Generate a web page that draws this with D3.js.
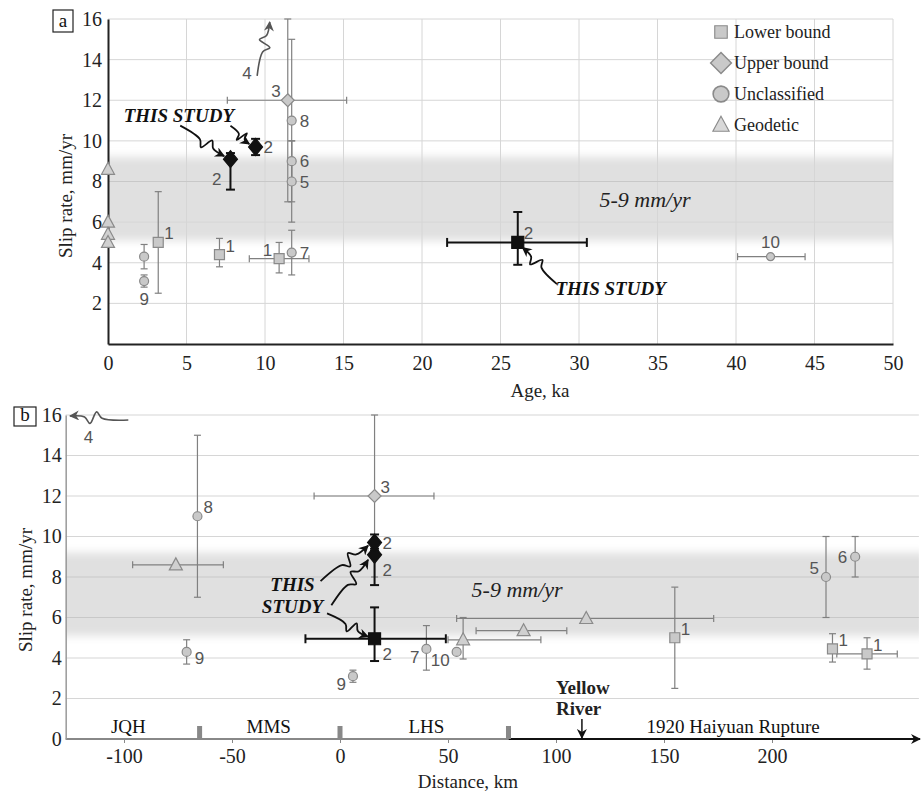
<!DOCTYPE html>
<html>
<head>
<meta charset="utf-8">
<script src="https://cdn.jsdelivr.net/npm/d3@7"></script>
<style>
  body { margin: 0; background: #fff; }
</style>
</head>
<body>
<svg id="chart" width="922" height="794"></svg>
<script>
// ---- data ----
var ageTicks = [0, 5, 10, 15, 20, 25, 30, 35, 40, 45, 50];
var rateTicks = [0, 2, 4, 6, 8, 10, 12, 14, 16];
var distTicks = [-100, -50, 0, 50, 100, 150, 200];
var band = [5.1, 9.2];
var bandText = "5-9 mm/yr";

// panel a: slip rate against age
var agePoints = [
  { type: "geodetic", x: 0, y: 8.6 },
  { type: "geodetic", x: 0, y: 6.0 },
  { type: "geodetic", x: 0, y: 5.4 },
  { type: "geodetic", x: 0, y: 5.0 },
  { type: "lower", x: 3.2, y: 5.0, ylo: 2.5, yhi: 7.5, label: "1", side: "ur" },
  { type: "unclass", x: 2.3, y: 4.3, ylo: 3.7, yhi: 4.9 },
  { type: "unclass", x: 2.3, y: 3.1, ylo: 2.8, yhi: 3.4, label: "9", side: "below" },
  { type: "lower", x: 7.1, y: 4.4, ylo: 3.8, yhi: 5.2, label: "1", side: "ur" },
  { type: "lower", x: 10.9, y: 4.2, xlo: 9.0, xhi: 12.8, ylo: 3.5, yhi: 5.0, label: "1", side: "ul" },
  { type: "unclass", x: 11.7, y: 11.0, ylo: 7, yhi: 15, label: "8", side: "right" },
  { type: "unclass", x: 11.7, y: 9.0, ylo: 8, yhi: 10, label: "6", side: "right" },
  { type: "unclass", x: 11.7, y: 8.0, ylo: 6, yhi: 10, label: "5", side: "right" },
  { type: "unclass", x: 11.7, y: 4.5, ylo: 3.4, yhi: 5.6, label: "7", side: "right" },
  { type: "upper", x: 11.45, y: 12, xlo: 7.6, xhi: 15.2, ylo: 7, yhi: 16, label: "3", side: "ul" },
  { type: "unclass", x: 42.2, y: 4.3, xlo: 40.1, xhi: 44.4, label: "10", side: "above", small: true },
  { type: "upper", own: true, x: 7.8, y: 9.1, ylo: 7.6, yhi: 9.4, label: "2", side: "bl" },
  { type: "upper", own: true, x: 9.4, y: 9.7, ylo: 9.3, yhi: 10.1, label: "2", side: "right" },
  { type: "lower", own: true, x: 26.1, y: 5.0, xlo: 21.6, xhi: 30.5, ylo: 3.9, yhi: 6.5, label: "2", side: "ur" }
];

// panel b: slip rate against distance along the fault
var distPoints = [
  { type: "geodetic", x: -76, y: 8.6, xlo: -96, xhi: -54 },
  { type: "unclass", x: -66, y: 11.0, ylo: 7, yhi: 15, label: "8", side: "ur" },
  { type: "unclass", x: -71, y: 4.3, ylo: 3.7, yhi: 4.9, label: "9", side: "rlow" },
  { type: "unclass", x: 6, y: 3.1, ylo: 2.8, yhi: 3.4, label: "9", side: "llow" },
  { type: "upper", x: 16, y: 12, xlo: -12, xhi: 43.5, ylo: 8, yhi: 16, label: "3", side: "ur" },
  { type: "geodetic", x: 57, y: 4.9, xlo: 50, xhi: 93, ylo: 3.95, yhi: 6.0 },
  { type: "geodetic", x: 85, y: 5.35, xlo: 63, xhi: 105 },
  { type: "geodetic", x: 114, y: 5.95, xlo: 54, xhi: 173 },
  { type: "unclass", x: 40, y: 4.45, ylo: 3.4, yhi: 5.6, label: "7", side: "llow" },
  { type: "unclass", x: 54, y: 4.3, label: "10", side: "llow" },
  { type: "lower", x: 155, y: 5.0, ylo: 2.5, yhi: 7.5, label: "1", side: "ur" },
  { type: "lower", x: 228, y: 4.45, ylo: 3.8, yhi: 5.2, label: "1", side: "ur" },
  { type: "lower", x: 244, y: 4.2, xlo: 230, xhi: 258, ylo: 3.45, yhi: 5.0, label: "1", side: "ur" },
  { type: "unclass", x: 225, y: 8.0, ylo: 6, yhi: 10, label: "5", side: "ul" },
  { type: "unclass", x: 238.5, y: 9.0, ylo: 8, yhi: 10, label: "6", side: "left" },
  { type: "upper", own: true, x: 16, y: 9.1, ylo: 7.6, yhi: 9.4, label: "2", side: "rb" },
  { type: "upper", own: true, x: 16, y: 9.7, ylo: 9.3, yhi: 10.1, label: "2", side: "right" },
  { type: "lower", own: true, x: 16, y: 4.95, xlo: -16, xhi: 49, ylo: 3.85, yhi: 6.5, label: "2", side: "rb" }
];

var legendItems = [
  { type: "lower", name: "Lower bound" },
  { type: "upper", name: "Upper bound" },
  { type: "unclass", name: "Unclassified" },
  { type: "geodetic", name: "Geodetic" }
];

// fault segments along panel b's distance axis
var segmentBreaks = [-65, 0, 78];
var segmentNames = [
  { name: "JQH", x: -98 },
  { name: "MMS", x: -33 },
  { name: "LHS", x: 40 },
  { name: "1920 Haiyuan Rupture", x: 182 }
];
var riverAt = 112;
var riverLines = ["Yellow", "River"];

// annotations, in data units
var ageNotes = [
  { text: "THIS STUDY", x: 1.0, y: 10.93, anchor: "start" },
  { text: "THIS STUDY", x: 28.5, y: 2.4, anchor: "start" }
];
var ageArrows = [
  { from: [4.6, 10.75], to: [7.4, 9.25] },
  { from: [7.8, 10.75], to: [9.0, 9.85] },
  { from: [28.6, 2.95], to: [26.4, 4.75] },
  { from: [9.5, 13.2], to: [10.3, 15.85], grey: true, label: "4", at: [8.85, 13.05] }
];
var distNotes = [
  { text: "THIS", x: -22, y: 7.3, anchor: "middle" },
  { text: "STUDY", x: -22, y: 6.2, anchor: "middle" }
];
var distArrows = [
  { from: [-9, 7.8], to: [13, 9.55] },
  { from: [-4, 6.6], to: [13, 8.85] },
  { from: [-6, 6.2], to: [13, 5.05] },
  { from: [-98, 15.75], to: [-125, 15.95], grey: true, label: "4", at: [-116.5, 14.6] }
];

// ---- setup ----
var serif = "'Liberation Serif', 'Times New Roman', serif";
var sans = "'Liberation Sans', Arial, sans-serif";
var svg = d3.select("#chart");
var defs = svg.append("defs");
var plain = function (d) { return String(d); }; // keep ASCII hyphen on negatives

defs.append("filter")
  .attr("id", "soft")
  .attr("x", "-2%").attr("y", "-40%")
  .attr("width", "104%").attr("height", "180%")
  .append("feGaussianBlur")
  .attr("stdDeviation", "0 4");

function arrowMarker(id, color, w, h) {
  defs.append("marker")
    .attr("id", id)
    .attr("markerUnits", "userSpaceOnUse")
    .attr("viewBox", "0 0 10 10")
    .attr("refX", 9).attr("refY", 5)
    .attr("markerWidth", w).attr("markerHeight", h)
    .attr("orient", "auto")
    .append("path")
    .attr("d", "M0,0L10,5L0,10L3,5Z")
    .attr("fill", color);
}
arrowMarker("headBlack", "#111", 12, 10);
arrowMarker("headGrey", "#555", 12, 10);
arrowMarker("headAxis", "#111", 14, 10);

function shapePath(type, own, small) {
  var s;
  if (type == "lower") {
    s = own ? 6 : 5;
    return "M" + -s + "," + -s + "h" + 2 * s + "v" + 2 * s + "h" + -2 * s + "Z";
  }
  if (type == "upper") {
    var w = own ? 7 : 6.5, h = own ? 8.5 : 6.5;
    return "M0," + -h + "L" + w + ",0L0," + h + "L" + -w + ",0Z";
  }
  if (type == "geodetic") {
    return "M0,-7L6.5,5L-6.5,5Z";
  }
  s = small ? 4 : 4.5;
  return "M" + s + ",0A" + s + "," + s + " 0 1,1 " + -s + ",0A" + s + "," + s + " 0 1,1 " + s + ",0Z";
}

var labelOffset = {
  right: [8, 6, "start"],
  rlow: [8, 12, "start"],
  ur: [6, -3, "start"],
  ul: [-7, -3, "end"],
  left: [-8, 6, "end"],
  llow: [-7, 14, "end"],
  bl: [-9, 26, "end"],
  rb: [8, 21, "start"],
  below: [0, 24, "middle"],
  above: [0, -9, "middle"]
};

function drawBand(x0, x1, y) {
  svg.append("rect")
    .attr("x", x0)
    .attr("y", y(band[1]))
    .attr("width", x1 - x0)
    .attr("height", y(band[0]) - y(band[1]))
    .attr("fill", "#e0e0e0")
    .attr("filter", "url(#soft)");
}

function drawPoints(pts, x, y) {
  var g = svg.append("g");
  pts.forEach(function (d) {
    var col = d.own ? "#111" : "#808080";
    var sw = d.own ? 2 : 1.2;
    var cap = d.own ? 4.5 : 3.5;
    if (d.xlo != null) {
      g.append("line").attr("x1", x(d.xlo)).attr("x2", x(d.xhi))
        .attr("y1", y(d.y)).attr("y2", y(d.y))
        .attr("stroke", col).attr("stroke-width", sw);
      [d.xlo, d.xhi].forEach(function (v) {
        g.append("line").attr("x1", x(v)).attr("x2", x(v))
          .attr("y1", y(d.y) - cap).attr("y2", y(d.y) + cap)
          .attr("stroke", col).attr("stroke-width", sw);
      });
    }
    if (d.ylo != null) {
      g.append("line").attr("x1", x(d.x)).attr("x2", x(d.x))
        .attr("y1", y(d.ylo)).attr("y2", y(d.yhi))
        .attr("stroke", col).attr("stroke-width", sw);
      [d.ylo, d.yhi].forEach(function (v) {
        g.append("line").attr("x1", x(d.x) - cap).attr("x2", x(d.x) + cap)
          .attr("y1", y(v)).attr("y2", y(v))
          .attr("stroke", col).attr("stroke-width", sw);
      });
    }
  });

  g.selectAll("path.mark")
    .data(pts)
    .enter()
    .append("path")
    .attr("class", "mark")
    .attr("d", function (d) { return shapePath(d.type, d.own, d.small); })
    .attr("transform", function (d) { return "translate(" + x(d.x) + "," + y(d.y) + ")"; })
    .attr("fill", function (d) {
      if (d.own) return "#111";
      return d.type == "geodetic" ? "#d0d0d0" : "#c9c9c9";
    })
    .attr("stroke", function (d) { return d.own ? "#111" : "#8a8a8a"; })
    .attr("stroke-width", 1.2);

  g.selectAll("text.lab")
    .data(pts.filter(function (d) { return d.label; }))
    .enter()
    .append("text")
    .attr("class", "lab")
    .attr("x", function (d) { return x(d.x) + labelOffset[d.side][0]; })
    .attr("y", function (d) { return y(d.y) + labelOffset[d.side][1]; })
    .attr("text-anchor", function (d) { return labelOffset[d.side][2]; })
    .attr("font-family", sans)
    .attr("font-size", "17px")
    .attr("fill", "#555")
    .text(function (d) { return d.label; });
}

function squiggle(s, e) {
  var dx = e[0] - s[0], dy = e[1] - s[1];
  var len = Math.sqrt(dx * dx + dy * dy);
  var nx = -dy / len, ny = dx / len;
  function at(t, off) {
    return [s[0] + dx * t + nx * off, s[1] + dy * t + ny * off];
  }
  return [s, at(0.45, 0), at(0.55, 6), at(0.65, -6), at(0.75, 0), e];
}

function drawArrows(list, x, y) {
  var line = d3.line().curve(d3.curveCatmullRom.alpha(0.5));
  list.forEach(function (a) {
    var s = [x(a.from[0]), y(a.from[1])];
    var e = [x(a.to[0]), y(a.to[1])];
    svg.append("path")
      .attr("d", line(squiggle(s, e)))
      .attr("fill", "none")
      .attr("stroke", a.grey ? "#555" : "#111")
      .attr("stroke-width", a.grey ? 1.6 : 1.8)
      .attr("marker-end", a.grey ? "url(#headGrey)" : "url(#headBlack)");
    if (a.label) {
      svg.append("text")
        .attr("x", x(a.at[0])).attr("y", y(a.at[1]))
        .attr("text-anchor", "middle")
        .attr("font-family", sans).attr("font-size", "17px")
        .attr("fill", "#555")
        .text(a.label);
    }
  });
}

function drawNotes(list, x, y) {
  svg.selectAll(null)
    .data(list)
    .enter()
    .append("text")
    .attr("x", function (d) { return x(d.x); })
    .attr("y", function (d) { return y(d.y); })
    .attr("text-anchor", function (d) { return d.anchor; })
    .attr("font-family", serif)
    .attr("font-size", "19px")
    .attr("font-weight", "bold")
    .attr("font-style", "italic")
    .attr("fill", "#111")
    .text(function (d) { return d.text; });
}

function panelTag(x0, y0, w, h, t) {
  svg.append("rect").attr("x", x0).attr("y", y0).attr("width", w).attr("height", h)
    .attr("fill", "#fff").attr("stroke", "#222").attr("stroke-width", 1.2);
  svg.append("text").attr("x", x0 + w / 2).attr("y", y0 + h - 5)
    .attr("text-anchor", "middle").attr("font-family", serif).attr("font-size", "19px")
    .attr("fill", "#111").text(t);
}

// ---- panel a ----
var xA = d3.scaleLinear().domain([0, 50]).range([108, 893]);
var yA = d3.scaleLinear().domain([0, 16]).range([344, 19]);

drawBand(xA(0), xA(50), yA);

svg.append("g").selectAll("line")
  .data(ageTicks.slice(1))
  .enter().append("line")
  .attr("x1", function (d) { return xA(d); }).attr("x2", function (d) { return xA(d); })
  .attr("y1", yA(0)).attr("y2", yA(16))
  .attr("stroke", "#d6d6d6").attr("stroke-width", 1);
svg.append("g").selectAll("line")
  .data(rateTicks.slice(1))
  .enter().append("line")
  .attr("x1", xA(0)).attr("x2", xA(50))
  .attr("y1", function (d) { return yA(d); }).attr("y2", function (d) { return yA(d); })
  .attr("stroke", function (d) { return d == 8 ? "#c8c8c8" : "#d6d6d6"; }).attr("stroke-width", 1);

var axA = svg.append("g").attr("transform", "translate(0," + yA(0) + ")")
  .call(d3.axisBottom(xA).tickValues(ageTicks).tickFormat(plain).tickSize(0).tickPadding(12));
axA.select(".domain").attr("stroke", "#222").attr("stroke-width", 2);
axA.selectAll("text").attr("font-family", serif).attr("font-size", "20px").attr("fill", "#222");

var ayA = svg.append("g").attr("transform", "translate(" + xA(0) + ",0)")
  .call(d3.axisLeft(yA).tickValues(rateTicks.slice(1)).tickFormat(plain).tickSize(0).tickPadding(6));
ayA.select(".domain").attr("stroke", "#222").attr("stroke-width", 2);
ayA.selectAll("text").attr("font-family", serif).attr("font-size", "20px").attr("fill", "#222");

svg.append("text").attr("x", 645).attr("y", yA(6.75))
  .attr("text-anchor", "middle").attr("font-family", serif).attr("font-size", "22px")
  .attr("font-style", "italic").attr("fill", "#222").text(bandText);

drawPoints(agePoints, xA, yA);
drawArrows(ageArrows, xA, yA);
drawNotes(ageNotes, xA, yA);

svg.append("text").attr("transform", "translate(72,196) rotate(-90)")
  .attr("text-anchor", "middle").attr("font-family", serif).attr("font-size", "19px")
  .attr("fill", "#222").text("Slip rate, mm/yr");
svg.append("text").attr("x", 540).attr("y", 397)
  .attr("text-anchor", "middle").attr("font-family", serif).attr("font-size", "19px")
  .attr("fill", "#222").text("Age, ka");

// legend
var leg = svg.append("g").selectAll("g")
  .data(legendItems)
  .enter().append("g")
  .attr("transform", function (d, i) { return "translate(721," + (32 + i * 31) + ")"; });
leg.append("path")
  .attr("d", function (d) { return shapePath(d.type, false, false); })
  .attr("transform", function (d) {
    return d.type == "upper" ? "scale(1.6)" : d.type == "unclass" ? "scale(1.75)" : "scale(1.25)";
  })
  .attr("fill", function (d) { return d.type == "geodetic" ? "#d8d8d8" : "#c9c9c9"; })
  .attr("stroke", "#8a8a8a").attr("stroke-width", 0.9);
leg.append("text").attr("x", 13).attr("y", 6)
  .attr("font-family", serif).attr("font-size", "18px").attr("fill", "#222")
  .text(function (d) { return d.name; });

panelTag(53, 10, 20, 22, "a");

// ---- panel b ----
var xB = d3.scaleLinear().domain([-100, 200]).range([124, 772]);
var yB = d3.scaleLinear().domain([0, 16]).range([739, 415]);
var bLeft = xB(-127), bRight = xB(268);

drawBand(bLeft, bRight, yB);

svg.append("g").selectAll("line")
  .data(rateTicks.slice(1))
  .enter().append("line")
  .attr("x1", bLeft).attr("x2", bRight)
  .attr("y1", function (d) { return yB(d); }).attr("y2", function (d) { return yB(d); })
  .attr("stroke", function (d) { return d == 6 || d == 8 ? "#c8c8c8" : "#d6d6d6"; }).attr("stroke-width", 1.2);

var axB = svg.append("g").attr("transform", "translate(0," + yB(0) + ")")
  .call(d3.axisBottom(xB).tickValues(distTicks).tickFormat(plain).tickSize(4).tickPadding(6));
axB.select(".domain").remove();
axB.selectAll("line").attr("stroke", "#888");
axB.selectAll("text").attr("font-family", serif).attr("font-size", "20px").attr("fill", "#222");

// grey stretch of the axis, then the rupture arrow
svg.append("line").attr("x1", bLeft).attr("x2", xB(segmentBreaks[2]))
  .attr("y1", yB(0)).attr("y2", yB(0)).attr("stroke", "#888").attr("stroke-width", 2);
svg.append("line").attr("x1", xB(segmentBreaks[2])).attr("x2", 920)
  .attr("y1", yB(0)).attr("y2", yB(0)).attr("stroke", "#111").attr("stroke-width", 2)
  .attr("marker-end", "url(#headAxis)");

var ayB = svg.append("g").attr("transform", "translate(" + bLeft + ",0)")
  .call(d3.axisLeft(yB).tickValues(rateTicks).tickFormat(plain).tickSize(0).tickPadding(4));
ayB.select(".domain").attr("stroke", "#999").attr("stroke-width", 1.5);
ayB.selectAll("text").attr("font-family", serif).attr("font-size", "20px").attr("fill", "#222");

svg.append("g").selectAll("rect")
  .data(segmentBreaks)
  .enter().append("rect")
  .attr("x", function (d) { return xB(d) - 2.5; })
  .attr("y", yB(0) - 13).attr("width", 5).attr("height", 13)
  .attr("fill", "#888");

svg.append("g").selectAll("text")
  .data(segmentNames)
  .enter().append("text")
  .attr("x", function (d) { return xB(d.x); })
  .attr("y", yB(0) - 6)
  .attr("text-anchor", "middle")
  .attr("font-family", serif).attr("font-size", "19px").attr("fill", "#111")
  .text(function (d) { return d.name; });

svg.append("g").selectAll("text")
  .data(riverLines)
  .enter().append("text")
  .attr("x", xB(riverAt) - 26)
  .attr("y", function (d, i) { return 694 + i * 21; })
  .attr("font-family", serif).attr("font-size", "19px")
  .attr("font-weight", "bold").attr("fill", "#222")
  .text(function (d) { return d; });
svg.append("line").attr("x1", xB(riverAt)).attr("x2", xB(riverAt))
  .attr("y1", 719).attr("y2", yB(0) - 1)
  .attr("stroke", "#111").attr("stroke-width", 1.5)
  .attr("marker-end", "url(#headBlack)");

svg.append("text").attr("x", xB(82)).attr("y", yB(7.0))
  .attr("text-anchor", "middle").attr("font-family", serif).attr("font-size", "22px")
  .attr("font-style", "italic").attr("fill", "#222").text(bandText);

drawPoints(distPoints, xB, yB);
drawArrows(distArrows, xB, yB);
drawNotes(distNotes, xB, yB);

svg.append("text").attr("transform", "translate(32,590) rotate(-90)")
  .attr("text-anchor", "middle").attr("font-family", serif).attr("font-size", "19px")
  .attr("fill", "#222").text("Slip rate, mm/yr");
svg.append("text").attr("x", 468).attr("y", 788)
  .attr("text-anchor", "middle").attr("font-family", serif).attr("font-size", "19px")
  .attr("fill", "#222").text("Distance, km");

panelTag(14, 407, 22, 19, "b");
</script>
</body>
</html>
